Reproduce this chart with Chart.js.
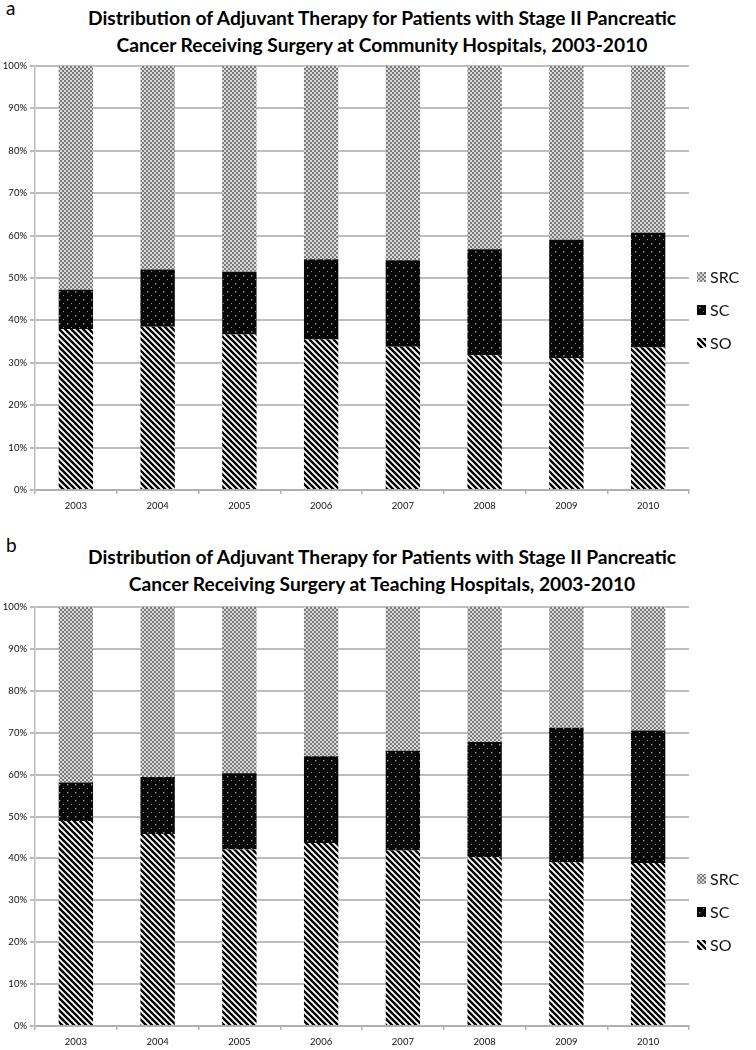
<!DOCTYPE html>
<html>
<head>
<meta charset="utf-8">
<script src="https://cdn.jsdelivr.net/npm/chart.js@4/dist/chart.umd.min.js"></script>
<style>
  body { margin: 0; background: #fff; }
  #page { position: relative; width: 756px; height: 1050px; font-family: Lato, "Open Sans", sans-serif; color: #111; }
  canvas { position: absolute; left: 0; }
  .panel { position: absolute; left: 6px; font-size: 19px; color: #000; }
  .title { position: absolute; left: 4px; width: 756px; text-align: center; font-weight: bold; font-size: 19.2px; line-height: 27px; color: #000; }
</style>
</head>
<body>
<div id="page">
  <div class="panel" style="top:-4px">a</div>
  <div class="title" style="top:4px">Distribution of Adjuvant Therapy for Patients with Stage II Pancreatic<br>Cancer Receiving Surgery at Community Hospitals, 2003-2010</div>
  <canvas id="chartA" width="756" height="525" style="top:0"></canvas>
  <div class="panel" style="top:533px">b</div>
  <div class="title" style="top:543px">Distribution of Adjuvant Therapy for Patients with Stage II Pancreatic<br>Cancer Receiving Surgery at Teaching Hospitals, 2003-2010</div>
  <canvas id="chartB" width="756" height="525" style="top:525px"></canvas>
</div>
<script>
// values, percent of patients per year
const years = ['2003', '2004', '2005', '2006', '2007', '2008', '2009', '2010'];

const communitySO  = [38.0, 38.5, 36.7, 35.5, 33.8, 31.8, 31.1, 33.6];
const communitySC  = [9.2, 13.5, 14.8, 18.9, 20.4, 25.0, 27.9, 27.1];
const communitySRC = [52.8, 48.0, 48.5, 45.6, 45.8, 43.2, 41.0, 39.3];

const teachingSO  = [48.9, 45.8, 42.1, 43.7, 41.9, 40.3, 39.1, 38.9];
const teachingSC  = [9.2, 13.6, 18.2, 20.7, 23.8, 27.5, 32.1, 31.6];
const teachingSRC = [41.9, 40.6, 39.7, 35.6, 34.3, 32.2, 28.8, 29.5];

// fill patterns like the old excel print
function makePattern(size, draw){
	const c = document.createElement('canvas');
	c.width = size; c.height = size;
	draw(c.getContext('2d'), size);
	return c.getContext('2d').createPattern(c, 'repeat');
}

const stripes = makePattern(6, function(g, s){
	g.fillStyle = '#fff';
	g.fillRect(0, 0, s, s);
	g.strokeStyle = '#000';
	g.lineWidth = 2.4;
	g.beginPath();
	g.moveTo(-s, -s); g.lineTo(2*s, 2*s);
	g.moveTo(-s, 0); g.lineTo(s, 2*s);
	g.moveTo(0, -s); g.lineTo(2*s, s);
	g.stroke();
});

const blackDots = makePattern(8, function(g, s){
	g.fillStyle = '#050505';
	g.fillRect(0, 0, s, s);
	g.fillStyle = '#8a8a8a';
	g.fillRect(3, 3, 1.5, 1.5);
	g.fillRect(7, 7, 1.5, 1.5);
});

const checker = makePattern(4, function(g, s){
	g.fillStyle = '#dadada';
	g.fillRect(0, 0, s, s);
	g.fillStyle = '#7a7a7a';
	g.fillRect(0, 0, 2, 2);
	g.fillRect(2, 2, 2, 2);
});

const sideLegend = {
	id: 'sideLegend',
	afterDraw(chart, args, opts){
		const ctx = chart.ctx;
		const sets = chart.data.datasets.slice().reverse();
		ctx.save();
		ctx.font = '16px Lato';
		ctx.textBaseline = 'middle';
		sets.forEach(function(ds, i){
			const y = opts.top + i * opts.gap;
			ctx.fillStyle = ds.backgroundColor;
			ctx.fillRect(opts.x, y - 5, 9, 10);
			ctx.fillStyle = '#111';
			ctx.fillText(ds.label, opts.x + 13, y + 1);
		});
		ctx.restore();
	}
};

function stackedChart(id, so, sc, src, pad, legendTop){
	const el = document.getElementById(id);
	return new Chart(el.getContext('2d'), {
		type: 'bar',
		data: {
			labels: years,
			datasets: [
				{ label: 'SO', data: so, backgroundColor: stripes },
				{ label: 'SC', data: sc, backgroundColor: blackDots },
				{ label: 'SRC', data: src, backgroundColor: checker }
			]
		},
		options: {
			responsive: false,
			animation: false,
			layout: { padding: { top: pad.top, right: 67, left: 0, bottom: 0 } },
			datasets: { bar: { categoryPercentage: 1, barPercentage: 0.42 } },
			plugins: {
				legend: { display: false },
				tooltip: { enabled: false },
				sideLegend: { x: 697, top: legendTop, gap: 33 }
			},
			scales: {
				x: {
					stacked: true,
					afterFit: function(s){ s.height = pad.bottom; },
					grid: { offset: true, drawOnChartArea: false, color: '#b0b0b0', lineWidth: 1.5, tickLength: 4 },
					border: { color: '#b0b0b0', width: 2 },
					ticks: { color: '#111', font: { family: 'Lato', size: 9.5 }, padding: 6 }
				},
				y: {
					stacked: true,
					min: 0, max: 100,
					afterFit: function(s){ s.width = 35; },
					grid: { color: '#bdbdbd', lineWidth: 2, tickLength: 5 },
					border: { color: '#bdbdbd', width: 1.5 },
					ticks: { stepSize: 10, color: '#111', font: { family: 'Lato', size: 9.5 }, padding: 3,
						callback: function(v){ return v + '%'; } }
				}
			}
		},
		plugins: [sideLegend]
	});
}

stackedChart('chartA', communitySO, communitySC, communitySRC, { top: 66, bottom: 35 }, 277);
stackedChart('chartB', teachingSO, teachingSC, teachingSRC, { top: 82, bottom: 24 }, 354);
</script>
</body>
</html>
